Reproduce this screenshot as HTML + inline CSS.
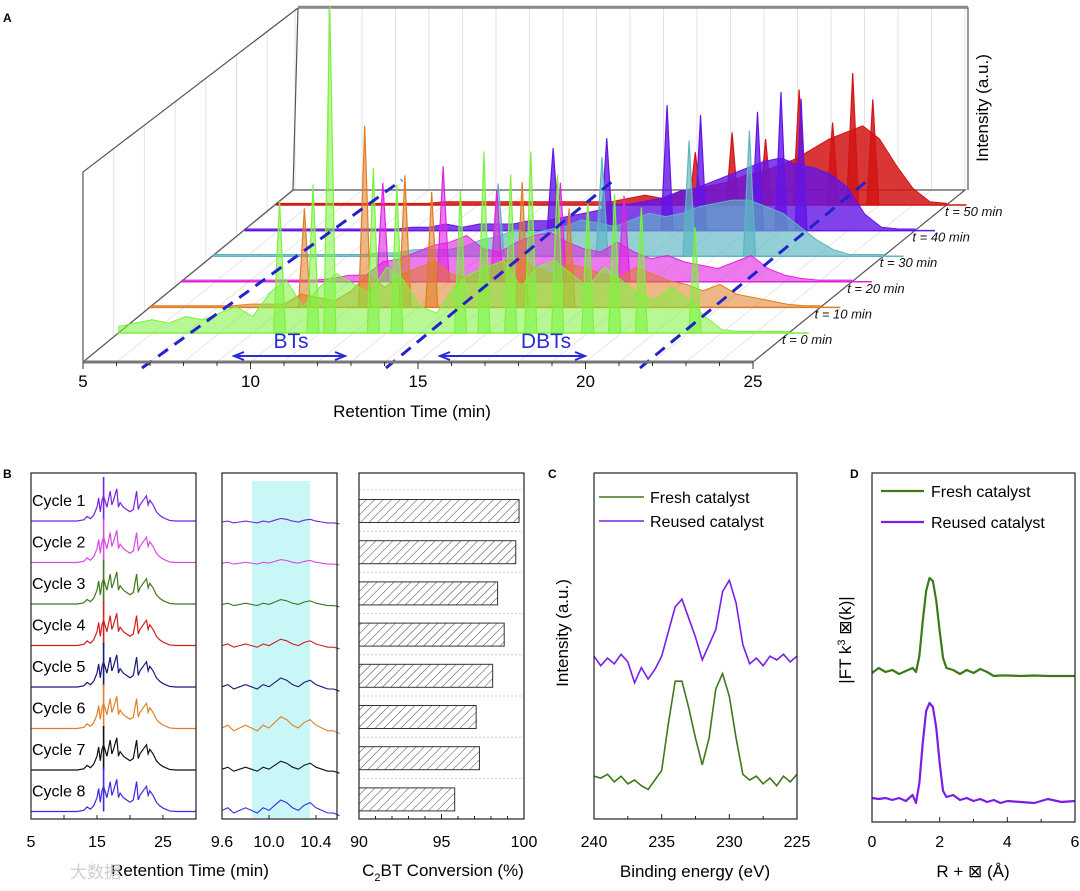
<!DOCTYPE html>
<html><head><meta charset="utf-8"><style>
html,body{margin:0;padding:0;background:#fff;width:1080px;height:891px;overflow:hidden}
svg{display:block;font-family:"Liberation Sans",Arial,sans-serif}
</style></head><body>
<svg id="fig" width="1080" height="891" viewBox="0 0 1080 891" xmlns="http://www.w3.org/2000/svg">
<defs>
<pattern id="hatch" patternUnits="userSpaceOnUse" width="6" height="6" patternTransform="rotate(45)">
<line x1="0" y1="0" x2="0" y2="6" stroke="#444" stroke-width="1"/></pattern>
</defs>
<g id="gA"></g>
<g id="gB"></g>
<g id="gC"></g>
<g id="gD"></g>
</svg>
<script>
// ---------- Panel A data (0.5 min steps, 5..25) ----------
const aTimes = [5,5.5,6,6.5,7,7.5,8,8.5,9,9.5,10,10.5,11,11.5,12,12.5,13,13.5,14,14.5,15,15.5,16,16.5,17,17.5,18,18.5,19,19.5,20,20.5,21,21.5,22,22.5,23,23.5,24,24.5,25];
const aLabels = ["t = 0 min","t = 10 min","t = 20 min","t = 30 min","t = 40 min","t = 50 min"];
const a0 = [2,3,4,3,5,4,6,8,5,12,16,8,14,18,15,12,20,16,8,6,14,18,20,22,14,20,22,18,14,20,16,12,10,14,10,5,1,0.5,0.5,0.5,0.5];
const a10 = [0.5,0.5,0.5,0.5,0.5,0.5,1,1,1,4,3,2,5,10,6,10,12,14,10,9,12,14,15,12,10,13,12,10,9,12,10,8,7,5,7,4,3,2,1,0.5,0.5];
const a20 = [0.5,0.5,0.5,0.5,0.5,0.5,0.5,0.5,0.5,1,2,2,6,7,9,11,12,14,10,9,12,14,15,12,10,9,12,9,7,8,6,5,4,6,8,4,2,1,0.5,0.5,0.5];
const a30 = [0.5,0.5,0.5,0.5,0.5,0.5,0.5,0.5,0.5,0.5,1,1,2,2,2,3,5,6,8,7,8,9,11,10,9,11,13,12,13,15,16,17,17,15,13,9,5,2,0.5,0.5,0.5];
const a40 = [0.5,0.5,0.5,0.5,0.5,0.5,0.5,0.5,0.5,0.5,1,1,2,1,2,2,2,3,3,4,5,6,8,8,9,10,12,13,15,17,19,21,22,20,19,17,13,5,1,0.5,0.5];
const a50 = [0.5,0.5,0.5,0.5,0.5,0.5,0.5,0.5,0.5,0.5,1,1,1,1,1,1,1,1,1,1,1,2,3,2,4,5,6,7,9,10,12,14,17,20,22,24,20,12,5,1,0.5];
const aSeries = [a0,a10,a20,a30,a40,a50];
const aSpikeT = [[9.8,10.8,11.3,12.6,13.3,15.2,15.9,16.7,17.3,18.1,19.0,19.8,20.6,22.2],[9.6,11.4,12.6,13.4,16.1,17.5],[11.0,12.8,14.4,16.3,18.2],[13.5,16.6,19.2,21.0],[14.2,15.8,17.6,18.6,20.3,21.0,21.6],[17.5,18.6,19.6,20.6,21.6,22.2,22.8]];
const aSpikeH = [[40,45,99,50,45,43,55,48,55,48,40,42,38,32],[30,55,40,35,38,30],[30,35,28,30,26],[22,30,35,38],[25,28,38,35,36,42,40],[16,22,20,35,25,40,32]];
const aColors = ["#7CF23C","#E07B22","#E022E0","#5BB5C2","#6414E6","#D21414"];
const aFills = ["rgba(124,242,60,0.55)","rgba(224,123,34,0.55)","rgba(224,34,224,0.6)","rgba(91,181,194,0.65)","rgba(100,20,230,0.8)","rgba(210,20,20,0.85)"];
const aTicks = [5,10,15,20,25];

// ---------- Panel B data ----------
const bCycles = ["Cycle 1","Cycle 2","Cycle 3","Cycle 4","Cycle 5","Cycle 6","Cycle 7","Cycle 8"];
const bColors = ["#7a22e0","#d84be0","#3f7a1e","#d02020","#1a1a7a","#e08028","#111111","#3a2ae0"];
const bProfT = [5,6,7,8,9,10,11,12,13,13.5,14,14.5,15,15.25,15.5,15.75,16,16.5,17,17.25,17.5,18,18.25,18.5,19,19.5,20,20.5,21,21.25,21.5,22,22.5,22.75,23,23.5,24,24.5,25,26,27,28,29,30];
const bProf = [0,0,0,0,0,0,0,0,1,4,2,5,12,20,8,18,22,12,26,14,18,28,12,16,12,10,8,10,26,10,14,18,22,14,18,14,8,5,3,0.5,0,0,0,0];
const bConv = [99.7,99.5,98.4,98.8,98.1,97.1,97.3,95.8];
const bZoomT = [9.6,9.65,9.7,9.75,9.8,9.85,9.9,9.95,10.0,10.05,10.1,10.15,10.2,10.25,10.3,10.35,10.4,10.45,10.5,10.55,10.6];
const bZoomV = [0,1,-1,0,1,0,-1,1,0,2,4,3,1,0,2,3,1,0,-1,-1,-2];
const bZoomAmp = [0.9,0.9,1.2,1.6,2.2,2.8,2.0,2.6];

// ---------- Panel C data (binding energy) ----------
const cE = [240,239.5,239,238.5,238,237.5,237,236.5,236,235.5,235,234.5,234,233.5,233,232.5,232,231.5,231,230.5,230,229.5,229,228.5,228,227.5,227,226.5,226,225.5,225];
const cReused = [2,-3,1,-2,3,-1,-12,-4,-10,-5,2,15,28,32,22,12,0,8,16,36,42,30,8,-2,1,-3,2,0,3,-1,2];
const cFresh = [2,1,3,-1,2,-2,0,-3,-5,0,5,30,52,52,38,22,8,22,48,56,44,22,3,0,2,-2,1,-3,2,-1,3];

// ---------- Panel D data (R) ----------
const dR = [0,0.2,0.4,0.6,0.8,1.0,1.2,1.3,1.4,1.5,1.6,1.7,1.8,1.9,2.0,2.1,2.2,2.4,2.6,2.8,3.0,3.2,3.4,3.6,3.8,4.0,4.4,4.8,5.2,5.6,6.0];
const dFresh = [3,8,4,6,2,5,8,4,20,55,85,98,95,75,45,18,8,6,2,6,3,7,4,0,0.5,0.5,0,0.5,0,0,0];
const dReused = [5,4,5,3,5,2,8,0,20,60,92,100,96,75,40,12,6,8,3,5,2,4,1,3,0,2,1,0,4,1,2];

const NS = "http://www.w3.org/2000/svg";
function mk(tag, attrs, parent){const e=document.createElementNS(NS,tag);for(const k in attrs)e.setAttribute(k,attrs[k]);parent.appendChild(e);return e;}
function txt(s, attrs, parent){const e=mk("text",attrs,parent);e.textContent=s;return e;}

// ================= PANEL A =================
(function(){
const g=document.getElementById("gA");
const x0=83, xpm=33.5, yF=362, yB=190, slope=(965-753)/(362-190);
const xA=(t,y)=>x0+(t-5)*xpm+(yF-y)*slope;
const lab=txt("A",{x:3,y:22,"font-size":12,"font-weight":"bold"},g);

for(let t=5;t<=25;t++){
  const gl=mk("line",{x1:xA(t,yB),y1:8,x2:xA(t,yB),y2:yB,stroke:"#e2e2e2","stroke-width":1},g);
  
  const fl=mk("line",{x1:xA(t,yF),y1:yF,x2:xA(t,yB),y2:yB,stroke:"#e6e6e6","stroke-width":1},g);
  
}
for(let i=1;i<7;i++){const lx=83+i*(298-83)/7;const ytop=172-i*(172-8)/7;const ybot=362-i*(362-190)/7;
  const l=mk("line",{x1:lx,y1:ytop,x2:lx,y2:ybot,stroke:"#e2e2e2","stroke-width":1},g);
  }
const frame=mk("path",{d:`M83,362 L83,172 L298,8 L968,8 L968,190 M298,8 L293,190 L965,190 L753,362 M83,362 L293,190`,fill:"none",stroke:"#555","stroke-width":1.2},g);

const te=mk("line",{x1:298,y1:7,x2:968,y2:7,stroke:"#888","stroke-width":2.5},g);

for(let s=5;s>=0;s--){
  const yb=333-s*25.6, ser=aSeries[s];
  let d=`M${xA(5,yb)},${yb}`;
  ser.forEach((v,i)=>{d+=` L${xA(aTimes[i],yb)},${yb-v*3.3}`;});
  d+=` L${xA(25,yb)},${yb} Z`;
  const p=mk("path",{d:d,fill:aFills[s],stroke:aColors[s],"stroke-width":1},g);
  
  
  aSpikeT[s].forEach((t,k)=>{
    const h=aSpikeH[s][k]*3.3;
    const sp=mk("path",{d:`M${xA(t-0.18,yb)},${yb} L${xA(t,yb)},${yb-h} L${xA(t+0.18,yb)},${yb} Z`,fill:aFills[s],stroke:aColors[s],"stroke-width":1.2},g);
    
  });
  const bl=mk("line",{x1:xA(5,yb),y1:yb,x2:xA(25,yb)+20,y2:yb,stroke:aColors[s],"stroke-width":1.5},g);
  
  const tl=txt(aLabels[s],{x:782+s*32.6,y:344-s*25.6,"font-size":13,"font-style":"italic",fill:"#111"},g);
  
}
[[142,368,402,180],[386,368,614,180],[640,368,868,180]].forEach(c=>{
  const l=mk("line",{x1:c[0],y1:c[1],x2:c[2],y2:c[3],stroke:"#2222cc","stroke-width":3,"stroke-dasharray":"12,8"},g);
  });
const ax=mk("line",{x1:83,y1:362,x2:753,y2:362,stroke:"#777","stroke-width":3},g);

for(let t=5;t<=25;t++){const x=x0+(t-5)*xpm;
  const tk=mk("line",{x1:x,y1:362,x2:x,y2:t%5==0?369:366,stroke:"#333","stroke-width":1},g);
  }
aTicks.forEach(t=>{const l=txt(String(t),{x:x0+(t-5)*xpm,y:387,"font-size":17,"text-anchor":"middle"},g);
  });
const xt=txt("Retention Time (min)",{x:412,y:417,"font-size":17,"text-anchor":"middle"},g);

const yt=txt("Intensity (a.u.)",{x:0,y:0,"font-size":17,"text-anchor":"middle",transform:"translate(988,108) rotate(-90)"},g);

const arrow=(x1,x2,y,name)=>{const a=mk("path",{d:`M${x1},${y} L${x2},${y} M${x1+10},${y-4} L${x1},${y} L${x1+10},${y+4} M${x2-10},${y-4} L${x2},${y} L${x2-10},${y+4}`,stroke:"#2a2ad8","stroke-width":2,fill:"none"},g);
 };
arrow(234,345,356,'bts-arrow');arrow(440,585,356,'dbts-arrow');
const t1=txt("BTs",{x:291,y:348,"font-size":21,"text-anchor":"middle",fill:"#2a2ad8"},g);

const t2=txt("DBTs",{x:546,y:348,"font-size":21,"text-anchor":"middle",fill:"#2a2ad8"},g);

})();

// ================= PANEL B =================
(function(){
const g=document.getElementById("gB");
const top=473,bot=819;
const lab=txt("B",{x:3,y:478,"font-size":12,"font-weight":"bold"},g);

const x1=t=>31+(t-5)*6.6;
bCycles.forEach((c,i)=>{
  const yb=521+i*41.5;
  let d="";bProfT.forEach((t,k)=>{d+=(k?" L":"M")+x1(t)+","+(yb-bProf[k]*1.15);});
  const p=mk("path",{d:d,fill:"none",stroke:bColors[i],"stroke-width":1.2},g);
  
  const sp=mk("line",{x1:x1(16),y1:yb,x2:x1(16),y2:yb-44,stroke:bColors[i],"stroke-width":1.6},g);
  
  const l=txt(c,{x:32,y:yb-15,"font-size":16},g);
  
});
const f1=mk("rect",{x:31,y:top,width:165,height:bot-top,fill:"none",stroke:"#222","stroke-width":1.2},g);

[5,15,25].forEach(t=>{const l=txt(String(t),{x:x1(t),y:847,"font-size":16,"text-anchor":"middle"},g);
 });
for(let t=5;t<=30;t+=5){const tk=mk("line",{x1:x1(t),y1:bot,x2:x1(t),y2:bot-4,stroke:"#222"},g);
 }
const x2=t=>222+(t-9.6)*117.5;
const cy=mk("rect",{x:252,y:481,width:58,height:337,fill:"#c9f7f8"},g);

bCycles.forEach((c,i)=>{
  const yb=522+i*41.2;
  let d="";bZoomT.forEach((t,k)=>{d+=(k?" L":"M")+x2(t)+","+(yb-bZoomV[k]*bZoomAmp[i]);});
  const p=mk("path",{d:d,fill:"none",stroke:bColors[i],"stroke-width":1.1},g);
  
});
const f2=mk("rect",{x:222,y:top,width:115,height:bot-top,fill:"none",stroke:"#222","stroke-width":1.2},g);

[["9.6",9.6],["10.0",10.0],["10.4",10.4]].forEach(a=>{const l=txt(a[0],{x:x2(a[1]),y:847,"font-size":16,"text-anchor":"middle"},g);
 
 const tk=mk("line",{x1:x2(a[1]),y1:bot,x2:x2(a[1]),y2:bot-4,stroke:"#222"},g);
 });
const xt=txt("Retention Time (min)",{x:190,y:876,"font-size":17,"text-anchor":"middle"},g);

const x3=v=>359+(v-90)*16.5;
for(let i=0;i<8;i++){const y=490+i*41.2;
 const gl=mk("line",{x1:359,y1:y,x2:524,y2:y,stroke:"#ccc","stroke-dasharray":"2,2"},g);
 }
bConv.forEach((v,i)=>{const yc=511+i*41.2;
 const r=mk("rect",{x:359,y:yc-11.5,width:x3(v)-359,height:23,fill:"url(#hatch)",stroke:"#333","stroke-width":1},g);
 });
const f3=mk("rect",{x:359,y:top,width:165,height:bot-top,fill:"none",stroke:"#222","stroke-width":1.2},g);

[90,95,100].forEach(v=>{const l=txt(String(v),{x:x3(v),y:847,"font-size":16,"text-anchor":"middle"},g);
 });
for(let v=90;v<=100;v++){const tk=mk("line",{x1:x3(v),y1:bot,x2:x3(v),y2:bot-(v%5?3:5),stroke:"#222"},g);
 }
const ct=mk("text",{x:443,y:876,"font-size":17,"text-anchor":"middle"},g);
ct.innerHTML='C<tspan font-size="11" dy="5">2</tspan><tspan dy="-5">BT Conversion (%)</tspan>';

const wm=txt("大数据",{x:70,y:878,"font-size":17,fill:"#cfcfcf","font-family":"'Liberation Sans','Noto Sans CJK SC',sans-serif"},g);

})();

// ================= PANEL C =================
(function(){
const g=document.getElementById("gC");
const xl=594,xr=797,top=473,bot=819;
const xc=e=>xl+(240-e)*(xr-xl)/15;
const lab=txt("C",{x:548,y:478,"font-size":12,"font-weight":"bold"},g);

const line=(arr,yb,col,name)=>{let d="";cE.forEach((e,k)=>{d+=(k?" L":"M")+xc(e)+","+(yb-arr[k]*1.9);});
 const p=mk("path",{d:d,fill:"none",stroke:col,"stroke-width":1.6},g);};
line(cReused,660,"#7a1ee6","reused-catalyst-line");
line(cFresh,780,"#3d7a1a","fresh-catalyst-line");
const f=mk("rect",{x:xl,y:top,width:xr-xl,height:bot-top,fill:"none",stroke:"#222","stroke-width":1.2},g);

[240,235,230,225].forEach(e=>{const l=txt(String(e),{x:xc(e),y:847,"font-size":16,"text-anchor":"middle"},g);
 });
for(let e=225;e<=240;e+=2.5){const tk=mk("line",{x1:xc(e),y1:bot,x2:xc(e),y2:bot-(e%5?3:5),stroke:"#222"},g);
 }
const xt=txt("Binding energy (eV)",{x:695,y:877,"font-size":17,"text-anchor":"middle"},g);

const yt=txt("Intensity (a.u.)",{x:0,y:0,"font-size":17,"text-anchor":"middle",transform:"translate(568,633) rotate(-90)"},g);

[["Fresh catalyst","#3d7a1a",497],["Reused catalyst","#7a1ee6",521]].forEach(a=>{
 const l=mk("line",{x1:599,y1:a[2],x2:644,y2:a[2],stroke:a[1],"stroke-width":1.6},g);
 const t=txt(a[0],{x:650,y:a[2]+6,"font-size":16},g);});
})();

// ================= PANEL D =================
(function(){
const g=document.getElementById("gD");
const xl=872,xr=1075,top=473,bot=822;
const xd=r=>xl+r*(xr-xl)/6;
const lab=txt("D",{x:850,y:478,"font-size":12,"font-weight":"bold"},g);

const line=(arr,yb,col,name)=>{let d="";dR.forEach((r,k)=>{d+=(k?" L":"M")+xd(r)+","+(yb-arr[k]*1.0);});
 const p=mk("path",{d:d,fill:"none",stroke:col,"stroke-width":2.2,"stroke-linejoin":"round"},g);};
line(dFresh,676,"#3d7a1a","fresh-catalyst-line");
line(dReused,803,"#7a1ee6","reused-catalyst-line");
const f=mk("rect",{x:xl,y:top,width:xr-xl,height:bot-top,fill:"none",stroke:"#222","stroke-width":1.2},g);

[0,2,4,6].forEach(r=>{const l=txt(String(r),{x:xd(r),y:847,"font-size":16,"text-anchor":"middle"},g);
 });
for(let r=0;r<=6;r++){const tk=mk("line",{x1:xd(r),y1:bot,x2:xd(r),y2:bot-(r%2?3:5),stroke:"#222"},g);
 }
const xt=txt("R + ⊠ (Å)",{x:973,y:877,"font-size":17,"text-anchor":"middle","font-family":"'Liberation Sans','DejaVu Sans',sans-serif"},g);

const yt=mk("text",{x:0,y:0,"font-size":17,"text-anchor":"middle",transform:"translate(851,640) rotate(-90)","font-family":"'Liberation Sans','DejaVu Sans',sans-serif"},g);
yt.innerHTML='|FT k<tspan font-size="11" dy="-6">3</tspan><tspan dy="6"> ⊠(k)|</tspan>';

[["Fresh catalyst","#3d7a1a",491],["Reused catalyst","#7a1ee6",522]].forEach(a=>{
 const l=mk("line",{x1:881,y1:a[2],x2:924,y2:a[2],stroke:a[1],"stroke-width":2.2},g);
 const t=txt(a[0],{x:931,y:a[2]+6,"font-size":16},g);});
})();
</script>
</body></html>
